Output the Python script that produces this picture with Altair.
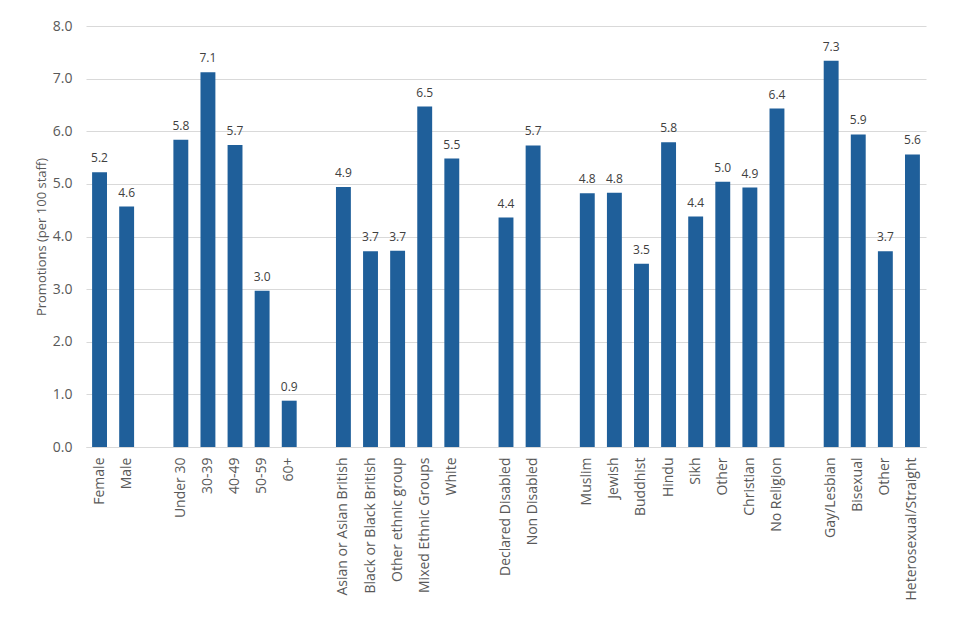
import altair as alt
import pandas as pd

categories = ["Female", "Male", " ",
              "Under 30", "30-39", "40-49", "50-59", "60+", "  ",
              "Asian or Asian British", "Black or Black British", "Other ethnic group",
              "Mixed Ethnic Groups", "White", "   ",
              "Declared Disabled", "Non Disabled", "    ",
              "Muslim", "Jewish", "Buddhist", "Hindu", "Sikh", "Other", "Christian",
              "No Religion", "     ",
              "Gay/Lesbian", "Bisexual", "Other ", "Heterosexual/Straight"]
values = [5.22, 4.57, None,
          5.84, 7.12, 5.74, 2.97, 0.88, None,
          4.94, 3.72, 3.73, 6.47, 5.48, None,
          4.36, 5.73, None,
          4.82, 4.83, 3.48, 5.79, 4.38, 5.04, 4.93, 6.43, None,
          7.34, 5.94, 3.72, 5.56]

df = pd.DataFrame({"cat": categories, "val": values})
font = "Open Sans"
grey = "#595959"

x = alt.X("cat:N", sort=categories, title=None,
          scale=alt.Scale(paddingInner=0.45, paddingOuter=0.225),
          axis=alt.Axis(labelAngle=-90, ticks=False, domainColor="#d9d9d9",
                        labelColor=grey, labelFontSize=14, labelFont=font,
                        labelPadding=10, labelAlign="right", labelBaseline="middle"))
y = alt.Y("val:Q", title="Promotions (per 100 staff)",
          scale=alt.Scale(domain=[0, 8]),
          axis=alt.Axis(values=[0, 1, 2, 3, 4, 5, 6, 7, 8], format=".1f",
                        domain=False, ticks=False, gridColor="#d9d9d9",
                        labelColor=grey, labelFontSize=14, labelFont=font,
                        labelPadding=14, titleColor=grey, titleFontSize=13,
                        titleFont=font, titleFontWeight="normal", titlePadding=4))

base = alt.Chart(df)
bars = base.mark_bar(color="#1F5F9A").encode(x=x, y=y)
labels = base.transform_filter("datum.val != null").mark_text(
    baseline="bottom", dy=-7, fontSize=12, font=font, color="#404040"
).encode(x=x, y=y, text=alt.Text("val:Q", format=".1f"))

chart = (bars + labels).properties(
    width=840, height=421,
    padding={"left": 27, "top": 11, "right": 5, "bottom": 5}
).configure_view(stroke=None)
chart.save("out.html", embed_options={"renderer": "svg", "actions": False})
